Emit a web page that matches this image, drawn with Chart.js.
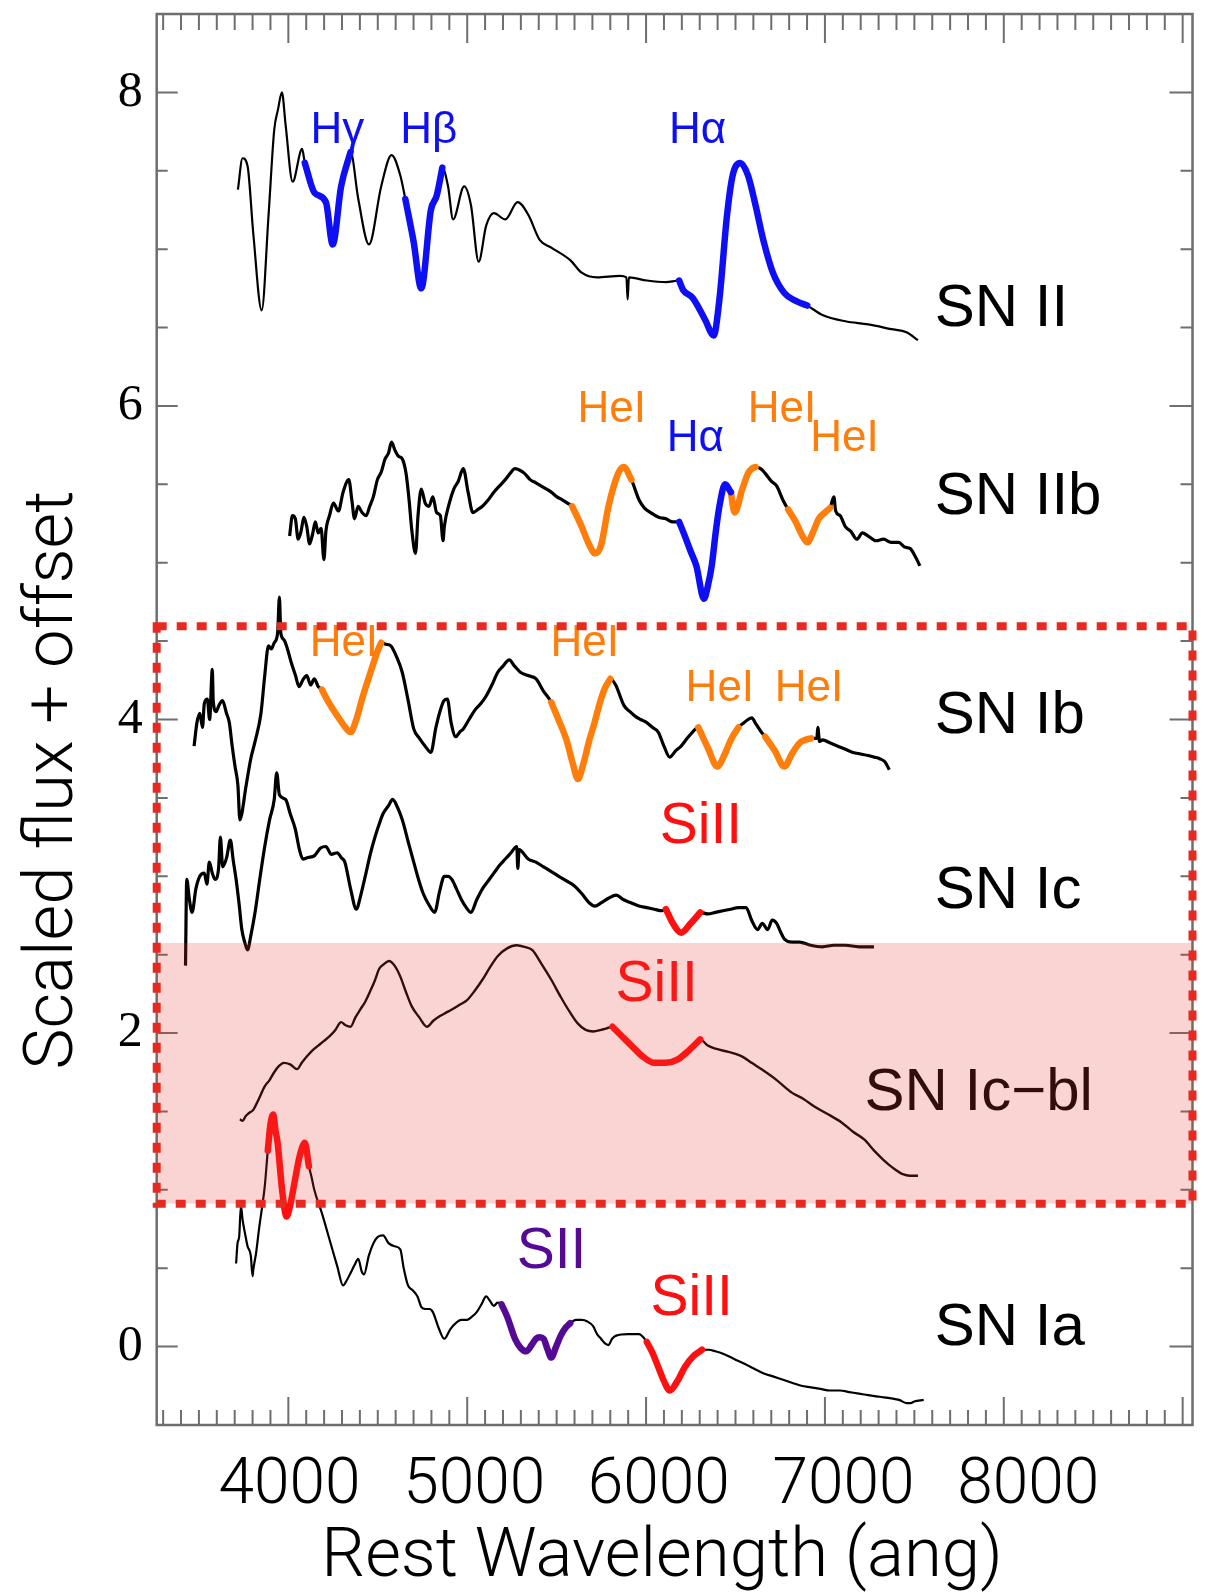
<!DOCTYPE html>
<html>
<head>
<meta charset="utf-8">
<title>Supernova spectra</title>
<script src="https://cdn.jsdelivr.net/npm/chart.js@4.4.0/dist/chart.umd.min.js"></script>
<style>
  html, body { margin: 0; padding: 0; background: #fff; }
  #wrap { width: 1205px; height: 1593px; }
</style>
</head>
<body>
<div id="wrap"><canvas id="specChart" width="1205" height="1593"></canvas></div>
<script>
// [rest wavelength (ang), scaled flux + offset]
const snII = [
  [3718,7.38],[3744,7.58],[3772,7.53],[3804,7.10],[3851,6.61],[3889,7.21],[3921,7.76],[3942,7.89],[3964,8.00],[3985,7.79],
  [4024,7.43],[4077,7.64],[4092,7.55],[4146,7.36],[4210,7.30],[4248,7.03],[4295,7.40],[4348,7.62],[4391,7.32],[4451,7.03],
  [4519,7.40],[4577,7.60],[4626,7.47],[4654,7.32],[4700,7.05],[4743,6.75],[4797,7.25],[4829,7.34],[4861,7.52],[4893,7.40],
  [4921,7.19],[4983,7.40],[5021,7.28],[5064,6.92],[5106,7.15],[5149,7.23],[5213,7.19],[5282,7.30],[5341,7.22],[5405,7.06],
  [5470,7.01],[5576,6.93],[5640,6.85],[5726,6.82],[5854,6.83],[5890,6.82],[5897,6.68],[5904,6.82],[6004,6.80],[6111,6.79],
  [6185,6.80],[6207,6.74],[6260,6.69],[6330,6.55],[6378,6.45],[6410,6.68],[6452,7.21],[6484,7.47],[6527,7.55],[6570,7.47],
  [6612,7.28],[6655,7.06],[6709,6.85],[6773,6.72],[6837,6.67],[6901,6.64],[6986,6.58],[7114,6.54],[7242,6.52],[7371,6.49],
  [7456,6.47],[7520,6.42]
];
const snIIb = [
  [4007,5.17],[4023,5.30],[4039,5.28],[4055,5.15],[4071,5.20],[4087,5.29],[4103,5.23],[4119,5.12],[4135,5.18],[4151,5.26],
  [4167,5.19],[4183,5.22],[4199,5.02],[4210,5.20],[4230,5.30],[4252,5.38],[4280,5.33],[4306,5.45],[4338,5.53],[4355,5.40],
  [4370,5.28],[4390,5.36],[4412,5.32],[4435,5.30],[4455,5.36],[4475,5.42],[4498,5.53],[4520,5.58],[4540,5.66],[4560,5.70],
  [4577,5.77],[4595,5.72],[4615,5.68],[4638,5.66],[4658,5.57],[4675,5.40],[4690,5.21],[4711,5.06],[4725,5.30],[4743,5.47],
  [4765,5.38],[4786,5.36],[4808,5.42],[4829,5.32],[4850,5.30],[4865,5.14],[4872,5.23],[4900,5.38],[4925,5.47],[4950,5.52],
  [4978,5.60],[5005,5.45],[5032,5.32],[5060,5.34],[5085,5.36],[5117,5.40],[5149,5.45],[5181,5.49],[5213,5.53],[5240,5.57],
  [5267,5.60],[5294,5.59],[5320,5.57],[5352,5.53],[5384,5.51],[5427,5.48],[5470,5.45],[5502,5.42],[5534,5.40],[5560,5.38],
  [5587,5.36],[5640,5.23],[5680,5.12],[5715,5.06],[5748,5.11],[5790,5.36],[5844,5.57],[5876,5.61],[5918,5.53],[5961,5.40],
  [5990,5.35],[6025,5.32],[6070,5.29],[6111,5.28],[6150,5.26],[6185,5.26],[6217,5.17],[6250,5.07],[6281,4.98],[6324,4.77],
  [6345,4.85],[6367,4.98],[6390,5.20],[6410,5.36],[6442,5.50],[6474,5.45],[6495,5.32],[6538,5.47],[6570,5.57],[6591,5.60],
  [6612,5.61],[6640,5.60],[6666,5.57],[6700,5.52],[6730,5.49],[6765,5.40],[6794,5.34],[6837,5.26],[6870,5.18],[6901,5.13],
  [6935,5.20],[6965,5.28],[7000,5.32],[7029,5.35],[7050,5.42],[7060,5.33],[7085,5.30],[7114,5.23],[7145,5.20],[7178,5.15],
  [7210,5.19],[7242,5.17],[7285,5.14],[7328,5.15],[7370,5.13],[7413,5.13],[7445,5.10],[7477,5.09],[7505,5.04],[7531,4.98]
];
const snIb = [
  [3473,3.83],[3489,3.98],[3505,4.04],[3520,3.95],[3530,4.10],[3547,4.13],[3560,4.00],[3575,4.32],[3580,4.12],[3596,4.05],
  [3612,4.09],[3632,4.12],[3654,4.04],[3670,3.98],[3686,3.83],[3702,3.70],[3718,3.58],[3729,3.36],[3740,3.40],[3760,3.55],
  [3790,3.75],[3814,3.86],[3847,4.04],[3868,4.28],[3889,4.47],[3905,4.45],[3921,4.49],[3940,4.55],[3950,4.78],[3958,4.55],
  [3975,4.51],[3995,4.45],[4017,4.36],[4040,4.28],[4060,4.21],[4080,4.25],[4103,4.28],[4125,4.22],[4145,4.26],[4167,4.21],
  [4188,4.19],[4220,4.12],[4252,4.06],[4300,3.98],[4348,3.92],[4380,4.00],[4412,4.13],[4445,4.25],[4476,4.36],[4500,4.44],
  [4519,4.49],[4545,4.48],[4573,4.47],[4605,4.40],[4637,4.30],[4670,4.12],[4701,3.94],[4733,3.88],[4765,3.83],[4797,3.79],
  [4825,3.95],[4850,4.06],[4870,4.12],[4889,4.13],[4910,3.98],[4936,3.89],[4958,3.92],[4978,3.94],[5010,4.00],[5043,4.06],
  [5075,4.10],[5106,4.15],[5138,4.22],[5170,4.30],[5200,4.34],[5235,4.38],[5265,4.34],[5299,4.30],[5340,4.28],[5384,4.26],
  [5427,4.18],[5470,4.11],[5510,4.00],[5555,3.87],[5590,3.72],[5619,3.62],[5650,3.72],[5683,3.87],[5712,3.98],[5740,4.10],
  [5770,4.20],[5800,4.26],[5830,4.22],[5876,4.09],[5910,4.05],[5940,4.02],[5970,4.00],[6004,3.98],[6035,3.95],[6068,3.92],
  [6100,3.83],[6132,3.76],[6165,3.80],[6196,3.83],[6230,3.88],[6260,3.92],[6292,3.95],[6345,3.82],[6399,3.70],[6440,3.78],
  [6474,3.87],[6516,3.95],[6548,3.98],[6570,4.00],[6591,4.01],[6615,3.97],[6644,3.92],[6666,3.89],[6720,3.80],[6773,3.70],
  [6815,3.78],[6858,3.85],[6890,3.87],[6922,3.88],[6955,3.88],[6960,3.95],[6970,3.86],[6986,3.87],[7030,3.85],[7072,3.83],
  [7115,3.81],[7157,3.79],[7200,3.78],[7242,3.77],[7275,3.76],[7306,3.75],[7335,3.73],[7360,3.68]
];
const snIc = [
  [3425,2.43],[3432,2.98],[3447,2.85],[3462,2.77],[3483,2.92],[3505,3.00],[3530,3.02],[3545,2.95],[3558,3.09],[3575,3.02],
  [3590,2.98],[3610,3.05],[3620,3.25],[3633,3.06],[3655,3.12],[3676,3.23],[3692,3.10],[3708,2.98],[3725,2.82],[3740,2.66],
  [3756,2.58],[3772,2.53],[3790,2.62],[3814,2.77],[3840,2.98],[3868,3.19],[3895,3.36],[3921,3.49],[3935,3.66],[3950,3.52],
  [3985,3.49],[4010,3.40],[4039,3.30],[4060,3.18],[4081,3.11],[4110,3.12],[4145,3.13],[4180,3.18],[4210,3.19],[4240,3.14],
  [4274,3.15],[4295,3.12],[4316,3.09],[4348,2.92],[4380,2.79],[4405,2.88],[4434,3.02],[4460,3.15],[4487,3.26],[4510,3.34],
  [4530,3.40],[4560,3.45],[4583,3.49],[4610,3.44],[4637,3.36],[4670,3.22],[4701,3.09],[4728,2.98],[4754,2.89],[4785,2.82],
  [4818,2.77],[4845,2.90],[4872,3.00],[4893,3.00],[4914,2.98],[4940,2.92],[4968,2.85],[4995,2.80],[5021,2.77],[5053,2.85],
  [5085,2.92],[5117,2.97],[5149,3.02],[5181,3.07],[5213,3.11],[5245,3.15],[5277,3.19],[5283,3.05],[5290,3.17],[5341,3.11],
  [5384,3.09],[5427,3.06],[5470,3.03],[5512,3.00],[5555,2.97],[5598,2.94],[5640,2.89],[5683,2.83],[5715,2.81],[5748,2.83],
  [5790,2.86],[5833,2.88],[5875,2.85],[5918,2.83],[5960,2.81],[6004,2.80],[6046,2.79],[6089,2.78],[6111,2.79],[6150,2.70],
  [6196,2.64],[6250,2.70],[6303,2.77],[6345,2.76],[6388,2.77],[6430,2.78],[6474,2.79],[6515,2.80],[6559,2.80],[6590,2.72],
  [6623,2.66],[6650,2.70],[6680,2.66],[6705,2.72],[6730,2.70],[6750,2.65],[6773,2.60],[6815,2.58],[6858,2.58],[6920,2.56],
  [6986,2.55],[7050,2.56],[7114,2.56],[7190,2.55],[7274,2.55]
];
const snIcbl = [
  [3729,1.45],[3745,1.44],[3761,1.47],[3780,1.49],[3804,1.51],[3835,1.58],[3868,1.66],[3895,1.70],[3921,1.75],[3948,1.79],
  [3975,1.81],[4010,1.80],[4049,1.77],[4075,1.81],[4103,1.85],[4135,1.89],[4167,1.92],[4200,1.95],[4231,1.98],[4263,2.02],
  [4295,2.07],[4320,2.05],[4348,2.04],[4375,2.10],[4402,2.15],[4430,2.20],[4455,2.26],[4482,2.33],[4508,2.41],[4535,2.44],
  [4562,2.46],[4594,2.43],[4626,2.36],[4658,2.26],[4690,2.17],[4732,2.10],[4775,2.04],[4812,2.08],[4850,2.11],[4882,2.13],
  [4914,2.15],[4957,2.18],[4999,2.21],[5042,2.27],[5085,2.34],[5128,2.42],[5170,2.49],[5223,2.54],[5277,2.56],[5320,2.55],
  [5363,2.53],[5416,2.44],[5470,2.34],[5523,2.23],[5576,2.13],[5619,2.06],[5662,2.02],[5705,2.01],[5748,2.02],[5780,2.03],
  [5812,2.04],[5865,1.98],[5918,1.92],[5982,1.85],[6046,1.81],[6110,1.81],[6175,1.83],[6240,1.89],[6303,1.96],[6345,1.92],
  [6388,1.90],[6460,1.88],[6538,1.85],[6590,1.81],[6644,1.77],[6730,1.70],[6815,1.62],[6880,1.58],[6943,1.53],[7020,1.48],
  [7093,1.43],[7157,1.37],[7221,1.32],[7275,1.25],[7328,1.19],[7380,1.14],[7435,1.10],[7475,1.09],[7520,1.09]
];
const snIa = [
  [3708,0.53],[3716,0.66],[3725,0.70],[3735,0.90],[3744,0.81],[3758,0.72],[3772,0.64],[3790,0.58],[3800,0.45],[3804,0.49],
  [3820,0.60],[3836,0.75],[3852,0.88],[3868,1.02],[3885,1.25],[3900,1.42],[3916,1.48],[3928,1.38],[3940,1.30],[3965,1.00],
  [3990,0.83],[4010,0.90],[4035,1.05],[4060,1.20],[4080,1.28],[4092,1.30],[4115,1.15],[4130,1.08],[4145,1.00],[4188,0.85],
  [4231,0.68],[4274,0.51],[4306,0.39],[4330,0.43],[4348,0.47],[4370,0.52],[4391,0.56],[4410,0.48],[4423,0.46],[4450,0.58],
  [4476,0.66],[4500,0.70],[4530,0.71],[4560,0.66],[4594,0.64],[4626,0.62],[4645,0.50],[4669,0.39],[4695,0.36],[4722,0.32],
  [4745,0.25],[4765,0.24],[4790,0.24],[4808,0.22],[4840,0.12],[4872,0.05],[4905,0.11],[4936,0.15],[4968,0.17],[4999,0.17],
  [5025,0.19],[5053,0.22],[5080,0.27],[5106,0.32],[5128,0.29],[5149,0.26],[5170,0.28],[5192,0.27],[5224,0.19],[5267,0.05],
  [5300,-0.01],[5331,-0.03],[5360,0.01],[5384,0.05],[5405,0.06],[5427,0.05],[5450,-0.02],[5470,-0.07],[5497,0.00],[5523,0.07],
  [5550,0.12],[5576,0.15],[5608,0.17],[5640,0.17],[5672,0.16],[5704,0.13],[5726,0.08],[5748,0.05],[5770,0.02],[5790,0.01],
  [5810,0.05],[5833,0.07],[5900,0.08],[5961,0.08],[6004,0.03],[6036,-0.04],[6068,-0.13],[6100,-0.22],[6132,-0.28],[6175,-0.22],
  [6217,-0.13],[6265,-0.06],[6313,-0.02],[6350,-0.02],[6388,-0.03],[6440,-0.05],[6495,-0.08],[6550,-0.11],[6602,-0.14],[6655,-0.17],
  [6709,-0.19],[6762,-0.21],[6815,-0.23],[6868,-0.25],[6922,-0.26],[6975,-0.27],[7029,-0.28],[7083,-0.28],[7136,-0.29],[7190,-0.30],
  [7242,-0.31],[7306,-0.32],[7371,-0.33],[7415,-0.34],[7456,-0.36],[7480,-0.36],[7499,-0.35],[7552,-0.34]
];

// highlighted line features: [from, to, ion]
const snII_lines   = [[4092,4348,'H'],[4654,4861,'H'],[6185,6901,'H']];
const snIIb_lines  = [[5587,5918,'He'],[6185,6474,'H'],[6474,6612,'He'],[6794,7029,'He']];
const snIb_lines   = [[4188,4519,'He'],[5450,5800,'He'],[6292,6516,'He'],[6666,6922,'He']];
const snIc_lines   = [[6111,6303,'Si']];
const snIcbl_lines = [[5812,6303,'Si']];
const snIa_lines   = [[3880,4115,'Si'],[5192,5576,'S'],[6004,6313,'Si']];

// axis ranges and tick labels
const X_MIN = 3264, X_MAX = 9055;
const Y_MIN = -0.5, Y_MAX = 8.5;
const xTickLabels = [4000, 5000, 6000, 7000, 8000];

// red box and shaded band (flux units)
const BOX_TOP = 4.595, BOX_BOTTOM = 0.912;
const BAND_TOP = 2.575;

const ionColor = {
  H: 'rgb(15,15,245)',
  He: 'rgb(255,125,10)',
  Si: 'rgb(255,15,15)',
  S: 'rgb(85,10,150)'
};

// text: [label, wavelength, flux, ion]
const ionLabels = [
  ['Hγ', 4124, 7.68, 'H'], ['Hβ', 4626, 7.68, 'H'], ['Hα', 6128, 7.68, 'H'],
  ['HeI', 5616, 5.895, 'He'], ['Hα', 6115, 5.712, 'H'], ['HeI', 6569, 5.897, 'He'], ['HeI', 6918, 5.712, 'He'],
  ['HeI', 4119, 4.404, 'He'], ['HeI', 5466, 4.404, 'He'], ['HeI', 6221, 4.117, 'He'], ['HeI', 6719, 4.117, 'He'],
  ['SiII', 6077, 3.213, 'Si'], ['SiII', 5829, 2.203, 'Si'],
  ['SII', 5277, 0.502, 'S'], ['SiII', 6025, 0.204, 'Si']
];
const typeLabels = [
  ['SN II', 7614, 6.51], ['SN IIb', 7614, 5.308], ['SN Ib', 7614, 3.915],
  ['SN Ic', 7614, 2.799], ['SN Ic\u2212bl', 7221, 1.512], ['SN Ia', 7614, 0.013]
];

const spectra = [
  { pts: snII, lines: snII_lines, width: 2.2 },
  { pts: snIIb, lines: snIIb_lines, width: 3.2 },
  { pts: snIb, lines: snIb_lines, width: 3.2 },
  { pts: snIc, lines: snIc_lines, width: 3.2 },
  { pts: snIcbl, lines: snIcbl_lines, width: 2.4 },
  { pts: snIa, lines: snIa_lines, width: 2.2 }
];

const datasets = [];
spectra.forEach(s => {
  datasets.push({
    data: s.pts.map(p => ({ x: p[0], y: p[1] })),
    borderColor: '#000',
    borderWidth: s.width,
    showLine: true,
    cubicInterpolationMode: 'monotone',
    pointRadius: 0,
    order: 2
  });
});
// coloured features: lower order, so they are painted over the black spectra
spectra.forEach(s => {
  s.lines.forEach(l => {
    datasets.push({
      data: s.pts.filter(p => p[0] >= l[0] && p[0] <= l[1]).map(p => ({ x: p[0], y: p[1] })),
      borderColor: ionColor[l[2]],
      borderWidth: 6.5,
      borderCapStyle: 'round',
      borderJoinStyle: 'round',
      showLine: true,
      cubicInterpolationMode: 'monotone',
      pointRadius: 0,
      order: 1
    });
  });
});

const SANS = "'Liberation Sans', Arial, Helvetica, sans-serif";
const LIGHT = "Roboto, 'Liberation Sans', Arial, sans-serif";

const decor = {
  id: 'decor',
  afterDraw(chart) {
    const ctx = chart.ctx;
    const xs = chart.scales.x, ys = chart.scales.y;
    const a = chart.chartArea;
    ctx.save();

    // ion and type labels
    ctx.textAlign = 'left';
    ctx.textBaseline = 'alphabetic';
    ionLabels.forEach(l => {
      const big = l[3] === 'Si' || l[3] === 'S';
      ctx.font = (big ? 57 : 44) + 'px ' + SANS;
      ctx.fillStyle = ionColor[l[3]];
      ctx.fillText(l[0], xs.getPixelForValue(l[1]), ys.getPixelForValue(l[2]));
    });
    ctx.font = '60px ' + SANS;
    ctx.fillStyle = '#000';
    typeLabels.forEach(l => {
      ctx.fillText(l[0], xs.getPixelForValue(l[1]), ys.getPixelForValue(l[2]));
    });

    // frame with inward ticks
    ctx.strokeStyle = 'rgb(110,110,110)';
    ctx.lineWidth = 2.5;
    ctx.strokeRect(a.left, a.top, a.right - a.left, a.bottom - a.top);
    ctx.lineWidth = 2;
    ctx.beginPath();
    for (let v = 3300; v <= X_MAX; v += 100) {
      const px = xs.getPixelForValue(v);
      const major = v % 1000 === 0;
      ctx.moveTo(px, a.bottom); ctx.lineTo(px, a.bottom - (major ? 28 : 15));
      ctx.moveTo(px, a.top); ctx.lineTo(px, a.top + (major ? 29 : 16));
    }
    for (let v = 0; v <= 8; v += 0.5) {
      const py = ys.getPixelForValue(v);
      const major = v % 2 === 0;
      ctx.moveTo(a.left, py); ctx.lineTo(a.left + (major ? 21 : 11), py);
      ctx.moveTo(a.right, py); ctx.lineTo(a.right - (major ? 23 : 12), py);
    }
    ctx.stroke();

    // shaded band over the Ic-bl spectrum
    const bandTop = ys.getPixelForValue(BAND_TOP);
    const boxTop = ys.getPixelForValue(BOX_TOP);
    const boxBottom = ys.getPixelForValue(BOX_BOTTOM);
    ctx.fillStyle = 'rgba(230,60,50,0.22)';
    ctx.fillRect(a.left, bandTop, a.right - a.left, boxBottom - bandTop);

    // dotted red box
    ctx.strokeStyle = 'rgb(230,42,32)';
    ctx.lineWidth = 8;
    ctx.setLineDash([10, 10]);
    ctx.strokeRect(a.left, boxTop, a.right - a.left, boxBottom - boxTop);
    ctx.setLineDash([]);

    // x tick labels (spread slightly wider than the ticks, as in the figure)
    ctx.fillStyle = '#000';
    ctx.font = '300 64px ' + LIGHT;
    ctx.textAlign = 'center';
    xTickLabels.forEach(v => {
      ctx.fillText(String(v), xs.getPixelForValue(v) + (v - 3800) * 0.0058, 1503);
    });

    // axis titles
    ctx.font = '300 69px ' + LIGHT;
    ctx.fillText('Rest Wavelength (ang)', 662, 1576);
    ctx.translate(72, 780);
    ctx.rotate(-Math.PI / 2);
    ctx.fillText('Scaled flux + offset', 0, 0);

    ctx.restore();
  }
};

new Chart(document.getElementById('specChart'), {
  type: 'scatter',
  data: { datasets: datasets },
  options: {
    responsive: false,
    animation: false,
    devicePixelRatio: 1,
    layout: { padding: { top: 14, right: 12.5, left: 0, bottom: 0 } },
    plugins: { legend: { display: false }, tooltip: { enabled: false } },
    elements: { point: { radius: 0 } },
    scales: {
      x: {
        type: 'linear', min: X_MIN, max: X_MAX,
        grid: { display: false, drawTicks: false }, border: { display: false },
        ticks: { display: false },
        afterFit(s) { s.height = 168; s.paddingLeft = 0; s.paddingRight = 0; }
      },
      y: {
        type: 'linear', min: Y_MIN, max: Y_MAX,
        grid: { display: false, drawTicks: false }, border: { display: false },
        ticks: {
          stepSize: 2, includeBounds: false, color: '#000', padding: 14,
          font: { family: "'Liberation Serif', 'Times New Roman', serif", size: 50 }
        },
        afterFit(s) { s.width = 156.7; s.paddingTop = 0; s.paddingBottom = 0; }
      }
    }
  },
  plugins: [decor]
});
</script>
</body>
</html>
